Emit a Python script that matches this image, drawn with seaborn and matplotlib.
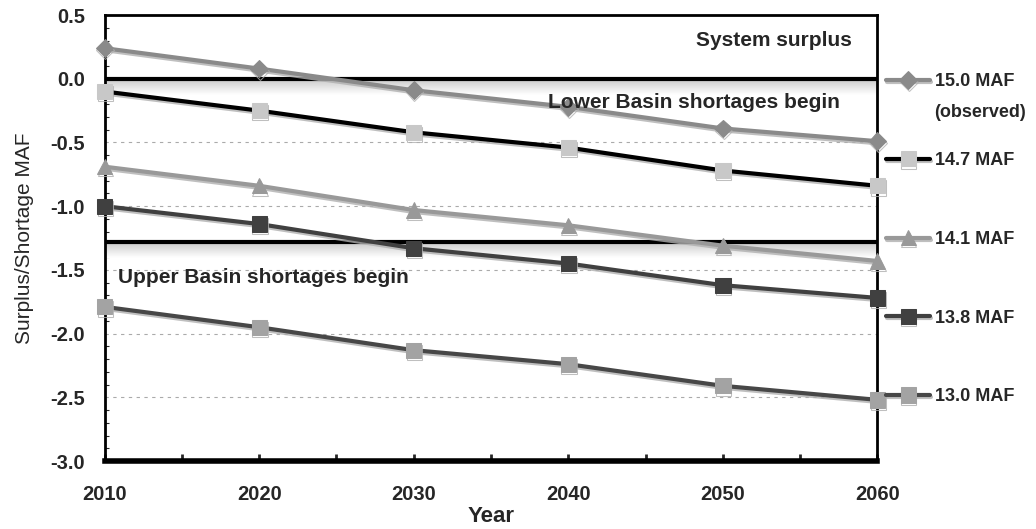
import numpy as np
import pandas as pd
import matplotlib
matplotlib.use("Agg")
import matplotlib.pyplot as plt
import matplotlib.patheffects as pe
import seaborn as sns

years = [2010, 2020, 2030, 2040, 2050, 2060]
flow_150 = [0.24, 0.08, -0.09, -0.22, -0.39, -0.49]
flow_147 = [-0.10, -0.25, -0.42, -0.54, -0.72, -0.84]
flow_141 = [-0.69, -0.84, -1.03, -1.15, -1.31, -1.43]
flow_138 = [-1.00, -1.14, -1.33, -1.45, -1.62, -1.72]
flow_130 = [-1.79, -1.95, -2.13, -2.24, -2.41, -2.52]
series_labels = ["15.0 MAF", "14.7 MAF", "14.1 MAF", "13.8 MAF", "13.0 MAF"]
lower_basin = 0.0
upper_basin = -1.28
y_ticks = [0.5, 0.0, -0.5, -1.0, -1.5, -2.0, -2.5, -3.0]
y_ticklabels = ["0.5", "0.0", "-0.5", "-1.0", "-1.5", "-2.0", "-2.5", "-3.0"]

sns.set_style("white")
plt.rcParams['font.family'] = ['Liberation Sans', 'DejaVu Sans']

df = pd.DataFrame({'Year': years * 5,
                   'Value': flow_150 + flow_147 + flow_141 + flow_138 + flow_130,
                   'Series': np.repeat(series_labels, len(years))})

# line colour, marker, marker face, marker size
styles = {
    series_labels[0]: ('#8a8a8a', 'D', '#8a8a8a', 9),
    series_labels[1]: ('#000000', 's', '#c8c8c8', 11),
    series_labels[2]: ('#999999', '^', '#999999', 11),
    series_labels[3]: ('#404040', 's', '#404040', 11),
    series_labels[4]: ('#474747', 's', '#a3a3a3', 11),
}

fig = plt.figure(figsize=(10.36, 5.29), dpi=100)
ax = fig.add_axes([0.101, 0.1285, 0.746, 0.843])

shadow = [pe.SimpleLineShadow(offset=(0.5, -1.5), shadow_color='#b0b0b0', alpha=0.8), pe.Normal()]
for lab in series_labels:
    c, m, fc, ms = styles[lab]
    sns.lineplot(data=df[df['Series'] == lab], x='Year', y='Value', ax=ax,
                 color=c, marker=m, markerfacecolor=fc, markeredgecolor=fc,
                 markersize=ms, linewidth=3, label=lab, path_effects=shadow,
                 clip_on=False, zorder=5)

# threshold lines with gradient shading below
grad = np.linspace(0.78, 1.0, 50).reshape(-1, 1)
for yv in [lower_basin, upper_basin]:
    ax.imshow(grad, cmap='gray', vmin=0, vmax=1, aspect='auto',
              extent=(2010, 2060, yv - 0.13, yv), zorder=1)
    ax.axhline(yv, color='black', linewidth=3, zorder=4)

ax.set_xlim(2010, 2060)
ax.set_ylim(-3.0, 0.5)
ax.set_xticks(years)
ax.set_xticks([2015, 2025, 2035, 2045, 2055], minor=True)
ax.set_yticks(y_ticks)
ax.set_yticklabels(y_ticklabels)
ax.set_yticks(np.arange(-3.0, 0.5, 0.1), minor=True)
ax.tick_params(axis='both', labelsize=14.5)
ax.tick_params(axis='x', which='both', direction='in', length=5, width=2, bottom=True, pad=17)
ax.tick_params(axis='y', which='minor', direction='in', length=3, width=0.8, left=True)
ax.tick_params(axis='y', which='major', direction='in', length=0, left=True, pad=14)
for t in ax.get_xticklabels() + ax.get_yticklabels():
    t.set_fontweight('bold')

for yv in [-0.5, -1.0, -1.5, -2.0, -2.5]:
    ax.axhline(yv, color='#aaaaaa', linestyle=(0, (3, 4)), linewidth=0.8, zorder=0)

for side in ['top', 'right', 'left']:
    ax.spines[side].set_linewidth(2)
    ax.spines[side].set_color('black')
ax.spines['bottom'].set_linewidth(4)
ax.spines['bottom'].set_color('black')

ax.text(2053.3, 0.3, 'System surplus', fontsize=15, fontweight='bold', ha='center', va='center')
ax.text(2048.1, -0.19, 'Lower Basin shortages begin', fontsize=15, fontweight='bold',
        ha='center', va='center', zorder=6)
ax.text(2010.85, -1.56, 'Upper Basin shortages begin', fontsize=15, fontweight='bold',
        ha='left', va='center', zorder=6)

ax.set_xlabel('Year', fontsize=16, fontweight='bold', labelpad=2)
ax.set_ylabel('Surplus/Shortage MAF', fontsize=15, labelpad=12)

ax.get_legend().remove()
handles, labels = ax.get_legend_handles_labels()
leg = fig.legend(handles, labels, loc='upper left', bbox_to_anchor=(0.84, 0.892),
                 frameon=False, handlelength=2.4, labelspacing=3.42,
                 prop={'weight': 'bold', 'size': 13}, handletextpad=0.3)
fig.text(0.9015, 0.788, '(observed)', fontsize=13, fontweight='bold', va='center')

fig.savefig('out.png', dpi=100)
